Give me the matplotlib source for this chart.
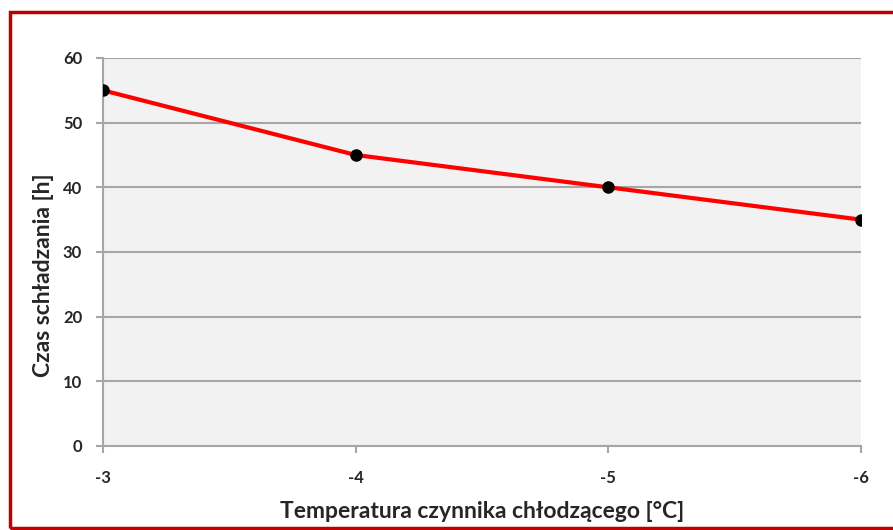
import matplotlib.pyplot as plt
from matplotlib.patches import Rectangle

# data
temps = ["-3", "-4", "-5", "-6"]
czas = [55, 45, 40, 35]
y_ticks = [0, 10, 20, 30, 40, 50, 60]

plt.rcParams['font.family'] = ['Lato', 'DejaVu Sans']

fig = plt.figure(figsize=(8.93, 5.30), dpi=100)
ax = fig.add_axes([0.1153, 0.1585, 0.8489, 0.7321])
ax.set_facecolor("#f2f2f2")

x = list(range(len(temps)))
ax.plot(x, czas, color="#ff0000", lw=3, zorder=3, solid_capstyle="round")
ax.plot(x, czas, "o", color="black", ms=8, zorder=4)

ax.set_xlim(0, len(temps) - 1)
ax.set_ylim(0, 60)
ax.set_yticks(y_ticks)
ax.set_xticks(x)
ax.set_xticklabels(temps)

ax.grid(True, axis="y", color="#a6a6a6", lw=1.5)
ax.set_axisbelow(True)
for s in ["top", "right"]:
    ax.spines[s].set_visible(False)
for s in ["left", "bottom"]:
    ax.spines[s].set_color("#a6a6a6")
    ax.spines[s].set_linewidth(1.5)

ax.tick_params(axis="both", colors="#a6a6a6", width=1.5, length=5,
               labelcolor="#262626", labelsize=12)
ax.tick_params(axis="x", pad=12)
ax.tick_params(axis="y", pad=10)
for lbl in ax.get_xticklabels() + ax.get_yticklabels():
    lbl.set_fontweight("bold")

ax.set_xlabel("Temperatura czynnika chłodzącego [°C]", fontsize=16.5,
              fontweight="bold", color="#262626", va="center")
ax.set_ylabel("Czas schładzania [h]", fontsize=16.5, fontweight="bold",
              color="#262626", va="center")
ax.xaxis.set_label_coords(0.5, -0.168)
ax.yaxis.set_label_coords(-0.078, 0.44)

# red frame round the chart (right edge runs off the picture)
frame = Rectangle((10 / 893, 2 / 530), 1.0, 516 / 530, transform=fig.transFigure,
                  fill=False, edgecolor="#c00000", lw=2.5, clip_on=False)
fig.patches.append(frame)

fig.savefig("out.png", dpi=100)
